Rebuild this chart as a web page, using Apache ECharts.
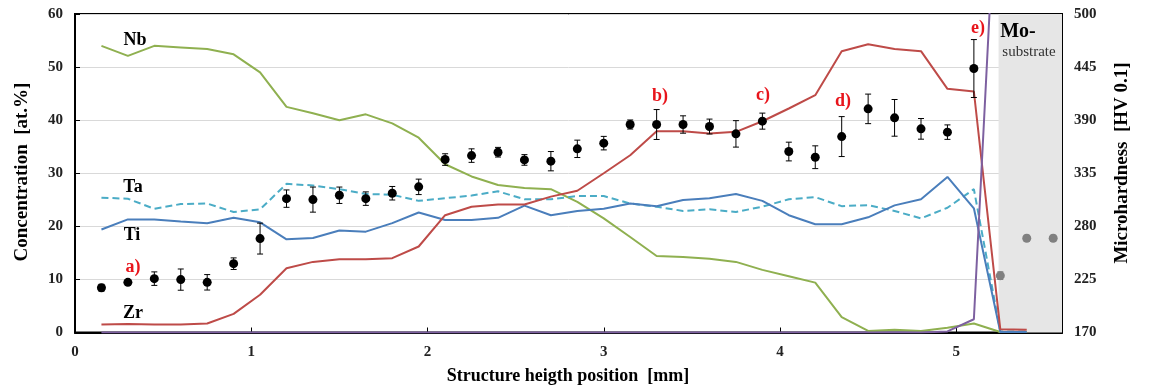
<!DOCTYPE html>
<html>
<head>
<meta charset="utf-8">
<script src="https://cdn.jsdelivr.net/npm/echarts@6/dist/echarts.min.js"></script>
<style>html,body{margin:0;padding:0;background:#fff;}#c{width:1151px;height:391px;}</style>
</head>
<body>
<div id="c"></div>
<script>
// ---- data ----
const xPos = [0.15,0.30,0.45,0.60,0.75,0.90,1.05,1.20,1.35,1.50,1.65,1.80,1.95,2.10,2.25,2.40,2.55,2.70,2.85,3.00,3.15,3.30,3.45,3.60,3.75,3.90,4.05,4.20,4.35,4.50,4.65,4.80,4.95,5.10,5.25,5.40];
const nb = [54.0,52.1,54.0,53.7,53.4,52.4,49.0,42.5,41.3,40.0,41.1,39.4,36.7,31.7,29.4,27.8,27.2,27.0,24.6,21.5,18.0,14.4,14.2,13.9,13.3,11.8,10.6,9.4,2.9,0.3,0.5,0.3,0.9,1.7,0.1,0.1];
const ta = [25.4,25.2,23.3,24.2,24.3,22.7,23.2,28.0,27.7,27.0,26.1,25.95,24.8,25.3,25.8,26.6,25.1,25.1,25.7,25.7,24.3,23.7,22.9,23.2,22.7,23.7,25.1,25.5,23.8,24.0,22.9,21.5,23.5,27.0,0.2,0.2];
const ti = [19.4,21.3,21.3,20.9,20.6,21.6,20.75,17.55,17.8,19.2,19.0,20.6,22.6,21.2,21.2,21.6,23.9,22.1,22.9,23.3,24.3,23.8,24.95,25.3,26.1,24.8,22.1,20.4,20.4,21.7,23.95,25.1,29.3,23.4,0.1,0.1];
const zr = [1.5,1.6,1.5,1.5,1.7,3.5,7.1,12.1,13.3,13.8,13.8,14.0,16.2,22.1,23.7,24.1,24.1,25.6,26.7,30.0,33.4,37.9,37.9,37.5,37.8,39.8,42.2,44.7,53.0,54.3,53.4,53.0,45.9,45.4,0.6,0.5];
const mo = [0,0,0,0,0,0,0,0,0,0,0,0,0,0,0,0,0,0,0,0,0,0,0,0,0,0,0,0,0,0,0,0,0.2,2.5,100];

const hvPos = [0.15,0.30,0.45,0.60,0.75,0.90,1.05,1.20,1.35,1.50,1.65,1.80,1.95,2.10,2.25,2.40,2.55,2.70,2.85,3.00,3.15,3.30,3.45,3.60,3.75,3.90,4.05,4.20,4.35,4.50,4.65,4.80,4.95,5.10];
const hv = [216.4,222.0,225.8,224.8,222.0,241.3,267.3,308.7,307.7,312.2,308.7,314.3,320.9,349.2,353.3,356.8,348.8,347.5,360.3,366.2,385.5,385.5,385.5,383.4,375.8,389.0,357.5,351.6,373.0,401.7,392.4,381.0,377.6,443.5];
const hvErr = [3.5,2,7,11,8,6,16,9,13,8.5,7,7,8,6,7,5,5.5,10,9,7,4.7,15.5,9,7.7,13.7,8.3,9.7,11.8,20.7,15.3,19,10.7,7.5,30];
const subPos = [5.25,5.40,5.55];
const subHv = [228.9,267.7,267.7];
const subErr = [4,3,3];

const substrateStart = 5.24;
const xTicks = [0,1,2,3,4,5];
const xMin = 0, xMax = 5.6;
const concMin = 0, concMax = 60, concStep = 10;
const hvMin = 170, hvMax = 500, hvStep = 55;

// ---- helpers ----
const pair = (xs, ys) => ys.map((v, i) => [xs[i], v]);
const errData = (xs, ys, es) => ys.map((v, i) => [xs[i], v - es[i], v + es[i]]);
const FONT = 'Liberation Serif';

function errRender(color) {
  return function (params, api) {
    const x = api.value(0), lo = api.value(1), hi = api.value(2);
    const pHi = api.coord([x, hi]), pLo = api.coord([x, lo]);
    const cap = 3;
    const st = { stroke: color, lineWidth: 1 };
    return {
      type: 'group',
      children: [
        { type: 'line', shape: { x1: pHi[0], y1: pHi[1], x2: pLo[0], y2: pLo[1] }, style: st },
        { type: 'line', shape: { x1: pHi[0] - cap, y1: pHi[1], x2: pHi[0] + cap, y2: pHi[1] }, style: st },
        { type: 'line', shape: { x1: pLo[0] - cap, y1: pLo[1], x2: pLo[0] + cap, y2: pLo[1] }, style: st }
      ]
    };
  };
}

const lineBase = { type: 'line', showSymbol: false, symbol: 'none', xAxisIndex: 0, yAxisIndex: 0, z: 3 };

const chart = echarts.init(document.getElementById('c'));
const txt = (t, x, y, o, rot) => ({ type: 'text', x: x, y: y, z: 100, rotation: rot || 0,
  style: Object.assign({ text: t, fontFamily: FONT, fontWeight: 'bold', fontSize: 18, fill: '#000', align: 'center', verticalAlign: 'middle' }, o || {}) });

chart.setOption({
  animation: false,
  grid: { left: 75, right: 89, top: 14, bottom: 58.5, show: true, borderColor: '#000', borderWidth: 2, backgroundColor: 'transparent' },
  xAxis: {
    type: 'value', min: xMin, max: xMax, interval: 1,
    axisLine: { show: true, lineStyle: { color: '#000', width: 2 } },
    axisTick: { show: true, inside: true, length: 5, lineStyle: { color: '#000' } },
    axisLabel: { margin: 12, fontFamily: FONT, fontWeight: 'bold', fontSize: 15, color: '#222',
      formatter: v => (xTicks.indexOf(v) >= 0 ? String(v) : '') },
    splitLine: { show: false }
  },
  yAxis: [
    { type: 'value', min: concMin, max: concMax, interval: concStep,
      axisLine: { show: true, lineStyle: { color: '#000', width: 2 } },
      axisTick: { show: true, inside: true, length: 5, lineStyle: { color: '#000' } },
      axisLabel: { margin: 12, fontFamily: FONT, fontWeight: 'bold', fontSize: 15, color: '#222' },
      splitLine: { show: true, lineStyle: { color: '#d9d9d9', width: 1 } } },
    { type: 'value', min: hvMin, max: hvMax, interval: hvStep, position: 'right',
      axisLine: { show: true, lineStyle: { color: '#000', width: 2 } },
      axisTick: { show: true, inside: true, length: 5, lineStyle: { color: '#000' } },
      axisLabel: { margin: 12, fontFamily: FONT, fontWeight: 'bold', fontSize: 15, color: '#222' },
      splitLine: { show: false } }
  ],
  series: [
    { type: 'line', data: [], xAxisIndex: 0, yAxisIndex: 0, silent: true, z: 1,
      markArea: { silent: true, itemStyle: { color: '#e6e6e6' }, data: [[{ xAxis: substrateStart }, { xAxis: xMax }]] } },
    Object.assign({}, lineBase, { name: 'Nb', data: pair(xPos, nb), lineStyle: { color: '#8fb050', width: 2 } }),
    Object.assign({}, lineBase, { name: 'Ta', data: pair(xPos, ta), lineStyle: { color: '#4bacc6', width: 2, type: [7, 4] } }),
    Object.assign({}, lineBase, { name: 'Ti', data: pair(xPos, ti), lineStyle: { color: '#4a7ebb', width: 2 } }),
    Object.assign({}, lineBase, { name: 'Zr', data: pair(xPos, zr), lineStyle: { color: '#be4b48', width: 2 } }),
    Object.assign({}, lineBase, { name: 'Mo', data: pair(xPos, mo), lineStyle: { color: '#7d60a0', width: 2 } }),
    { type: 'custom', name: 'errHV', xAxisIndex: 0, yAxisIndex: 1, z: 5, clip: false,
      renderItem: errRender('#000'), encode: { x: 0, y: [1, 2] }, data: errData(hvPos, hv, hvErr) },
    { type: 'custom', name: 'errSub', xAxisIndex: 0, yAxisIndex: 1, z: 5,
      renderItem: errRender('#7f7f7f'), encode: { x: 0, y: [1, 2] }, data: errData(subPos, subHv, subErr) },
    { type: 'scatter', name: 'HV', xAxisIndex: 0, yAxisIndex: 1, z: 6, symbol: 'circle', symbolSize: 9,
      itemStyle: { color: '#000', opacity: 1 }, data: pair(hvPos, hv) },
    { type: 'scatter', name: 'HVsub', xAxisIndex: 0, yAxisIndex: 1, z: 6, symbol: 'circle', symbolSize: 9,
      itemStyle: { color: '#808080', opacity: 1 }, data: pair(subPos, subHv) }
  ],
  graphic: [
    txt('Nb', 135, 40),
    txt('Ta', 133, 187),
    txt('Ti', 132, 235),
    txt('Zr', 133, 313),
    txt('a)', 133, 267, { fill: '#e8141b' }),
    txt('b)', 660, 96, { fill: '#e8141b' }),
    txt('c)', 763, 95, { fill: '#e8141b' }),
    txt('d)', 843, 101, { fill: '#e8141b' }),
    txt('e)', 978, 28, { fill: '#e8141b' }),
    txt('Mo-', 1018, 32, { fontSize: 20 }),
    txt('substrate', 1029, 52, { fontWeight: 'normal', fontSize: 15, fill: '#333' }),
    txt('Concentration  [at.%]', 22, 172, { fontSize: 19 }, Math.PI / 2),
    txt('Microhardness  [HV 0.1]', 1122, 163, { fontSize: 19 }, Math.PI / 2),
    txt('Structure heigth position  [mm]', 568, 376, { fontSize: 18 })
  ]
});
</script>
</body>
</html>
